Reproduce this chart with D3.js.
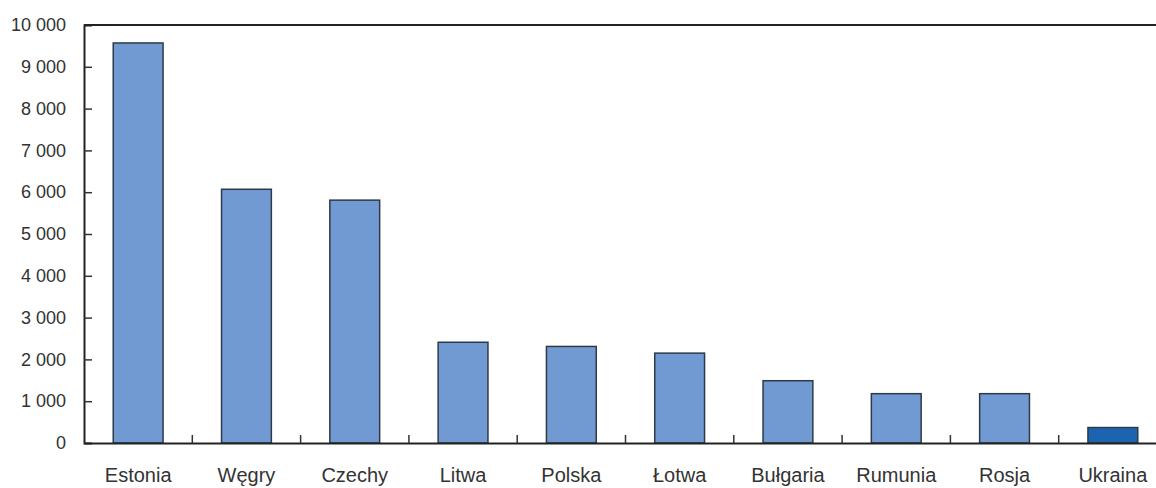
<!DOCTYPE html>
<html>
<head>
<meta charset="utf-8">
<script src="https://d3js.org/d3.v7.min.js"></script>
<style>
body { margin: 0; background: #fff; }
svg text { font-family: "Liberation Sans", Arial, sans-serif; fill: #333; }
</style>
</head>
<body>
<script>
// categories and values
const countries = ["Estonia", "Węgry", "Czechy", "Litwa", "Polska", "Łotwa", "Bułgaria", "Rumunia", "Rosja", "Ukraina"];
const values = [9570, 6070, 5810, 2410, 2310, 2150, 1490, 1180, 1180, 370];
const yTicks = [0, 1000, 2000, 3000, 4000, 5000, 6000, 7000, 8000, 9000, 10000];
const highlight = "Ukraina";

const data = countries.map((c, i) => ({country: c, value: values[i]}));

const W = 1156, H = 488;
// plot area (right edge runs past the picture, as in the original crop)
const plot = {left: 84, top: 25, bottom: 443, right: 1167};

const svg = d3.select("body").append("svg")
  .attr("width", W)
  .attr("height", H);

const x = d3.scaleBand()
  .domain(countries)
  .range([plot.left, plot.right])
  .paddingInner(0.54)
  .paddingOuter(0.27);

const y = d3.scaleLinear()
  .domain([0, 10000])
  .range([plot.bottom, plot.top]);

const fmt = d3.formatLocale({decimal: ",", thousands: "\u00a0", grouping: [3], currency: ["", ""]}).format(",d");

// bars
svg.selectAll("rect.bar")
  .data(data)
  .enter()
  .append("rect")
  .attr("class", "bar")
  .attr("x", d => x(d.country))
  .attr("y", d => y(d.value))
  .attr("width", x.bandwidth())
  .attr("height", d => y(0) - y(d.value))
  .attr("fill", d => d.country === highlight ? "#1c64b0" : "#7199d2")
  .attr("stroke", "#2e3a48")
  .attr("stroke-width", 1.5);

// top border
svg.append("line")
  .attr("x1", plot.left).attr("x2", W)
  .attr("y1", y(10000)).attr("y2", y(10000))
  .attr("stroke", "#222").attr("stroke-width", 2);

// y axis
const yAxis = svg.append("g")
  .attr("transform", "translate(" + plot.left + ",0)")
  .call(d3.axisRight(y).tickValues(yTicks).tickSize(8).tickFormat(fmt));
yAxis.select(".domain").attr("stroke", "#222").attr("stroke-width", 2);
yAxis.selectAll(".tick line").attr("stroke", "#333").attr("stroke-width", 1.5)
  .filter(d => d === 10000 || d === 0).remove();
yAxis.selectAll(".tick text")
  .attr("x", -18)
  .attr("text-anchor", "end")
  .attr("font-size", 18)
  .attr("font-family", null);

// x axis
const xAxis = svg.append("g")
  .attr("transform", "translate(0," + plot.bottom + ")")
  .call(d3.axisBottom(x).tickSize(0).tickPadding(25));
xAxis.select(".domain").attr("stroke", "#222").attr("stroke-width", 2);
xAxis.selectAll(".tick text")
  .attr("font-size", 20)
  .attr("font-family", null);

// small tick marks between categories
const step = x.step();
svg.selectAll("line.sep")
  .data(countries.slice(1))
  .enter()
  .append("line")
  .attr("class", "sep")
  .attr("x1", d => x(d) - x.paddingInner() * step / 2)
  .attr("x2", d => x(d) - x.paddingInner() * step / 2)
  .attr("y1", plot.bottom)
  .attr("y2", plot.bottom - 8)
  .attr("stroke", "#333")
  .attr("stroke-width", 1.5);
</script>
</body>
</html>
